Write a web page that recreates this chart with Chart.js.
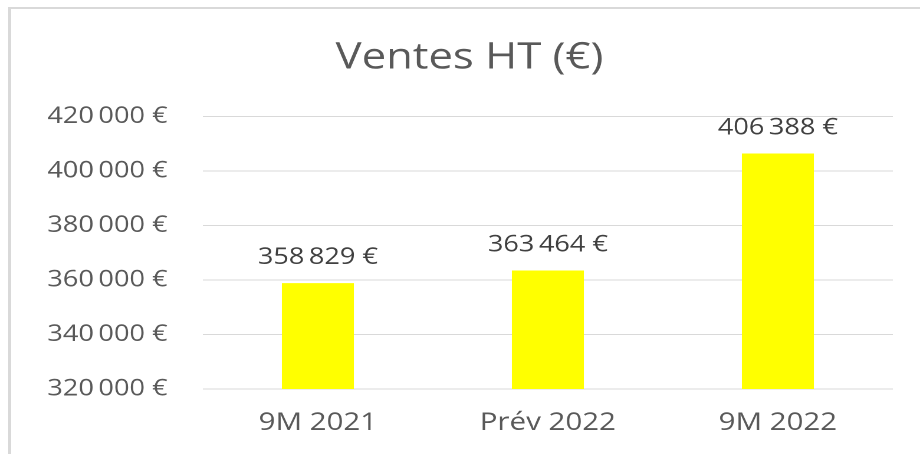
<!DOCTYPE html>
<html>
<head>
<meta charset="utf-8">
<script src="https://cdn.jsdelivr.net/npm/chart.js@4/dist/chart.umd.min.js"></script>
<style>
  html, body { margin: 0; padding: 0; background: #fff; overflow: hidden; }
  #frame { position: absolute; left: 8px; top: 7px; width: 1000px; height: 600px;
           border-left: 3px solid #d9d9d9; border-top: 2px solid #d9d9d9; }
  #myChart { position: absolute; left: 0; top: 0; }
</style>
</head>
<body>
<div id="frame"></div>
<canvas id="myChart" width="780" height="454" style="width:920px;height:454px"></canvas>
<script>
// data
const categories = ['9M 2021', 'Prév 2022', '9M 2022'];
const ventes = [358829, 363464, 406388];
const yMin = 320000;
const yMax = 420000;
const yStep = 20000;

const textGrey = '#595959';

// "420 000 €" : thin space between groups, normal space before the euro sign
function euro(v) {
  return String(Math.round(v)).replace(/\B(?=(\d{3})+(?!\d))/g, '\u2009') + ' €';
}

// value labels on top of the bars
const barLabels = {
  id: 'barLabels',
  afterDatasetsDraw(chart) {
    const ctx = chart.ctx;
    const meta = chart.getDatasetMeta(0);
    ctx.save();
    ctx.font = '23px "Open Sans"';
    ctx.fillStyle = '#404040';
    ctx.textAlign = 'center';
    ctx.textBaseline = 'alphabetic';
    meta.data.forEach((bar, i) => {
      ctx.fillText(euro(chart.data.datasets[0].data[i]), bar.x, bar.y - 19);
    });
    ctx.restore();
  }
};

let myBarChart = new Chart(document.getElementById('myChart'), {
  type: 'bar',
  data: {
    labels: categories,
    datasets: [{
      label: 'Ventes HT (€)',
      data: ventes,
      backgroundColor: '#ffff00',
      borderWidth: 0,
      barPercentage: 1,
      categoryPercentage: 0.313
    }]
  },
  options: {
    responsive: false,
    devicePixelRatio: 2,
    animation: false,
    layout: { padding: { left: 39, right: 23, top: 0, bottom: 0 } },
    plugins: {
      legend: { display: false },
      tooltip: { enabled: false },
      title: {
        display: true,
        text: 'Ventes HT (€)',
        color: textGrey,
        font: { family: 'Open Sans', size: 37, weight: 'normal', lineHeight: 1.2 },
        padding: { top: 36, bottom: 36 }
      }
    },
    scales: {
      x: {
        grid: { display: false, drawTicks: false },
        border: { display: false },
        ticks: {
          color: textGrey,
          font: { family: 'Open Sans', size: 25 },
          padding: 19
        },
        afterFit(scale) { scale.height = 65; }
      },
      y: {
        min: yMin,
        max: yMax,
        grid: { color: '#d9d9d9', lineWidth: 1, drawTicks: false },
        border: { display: false },
        ticks: {
          stepSize: yStep,
          color: textGrey,
          font: { family: 'Open Sans', size: 23 },
          padding: 30,
          callback: (v) => euro(v)
        },
        afterFit(scale) { scale.width = 133; }
      }
    }
  },
  plugins: [barLabels]
});
</script>
</body>
</html>
